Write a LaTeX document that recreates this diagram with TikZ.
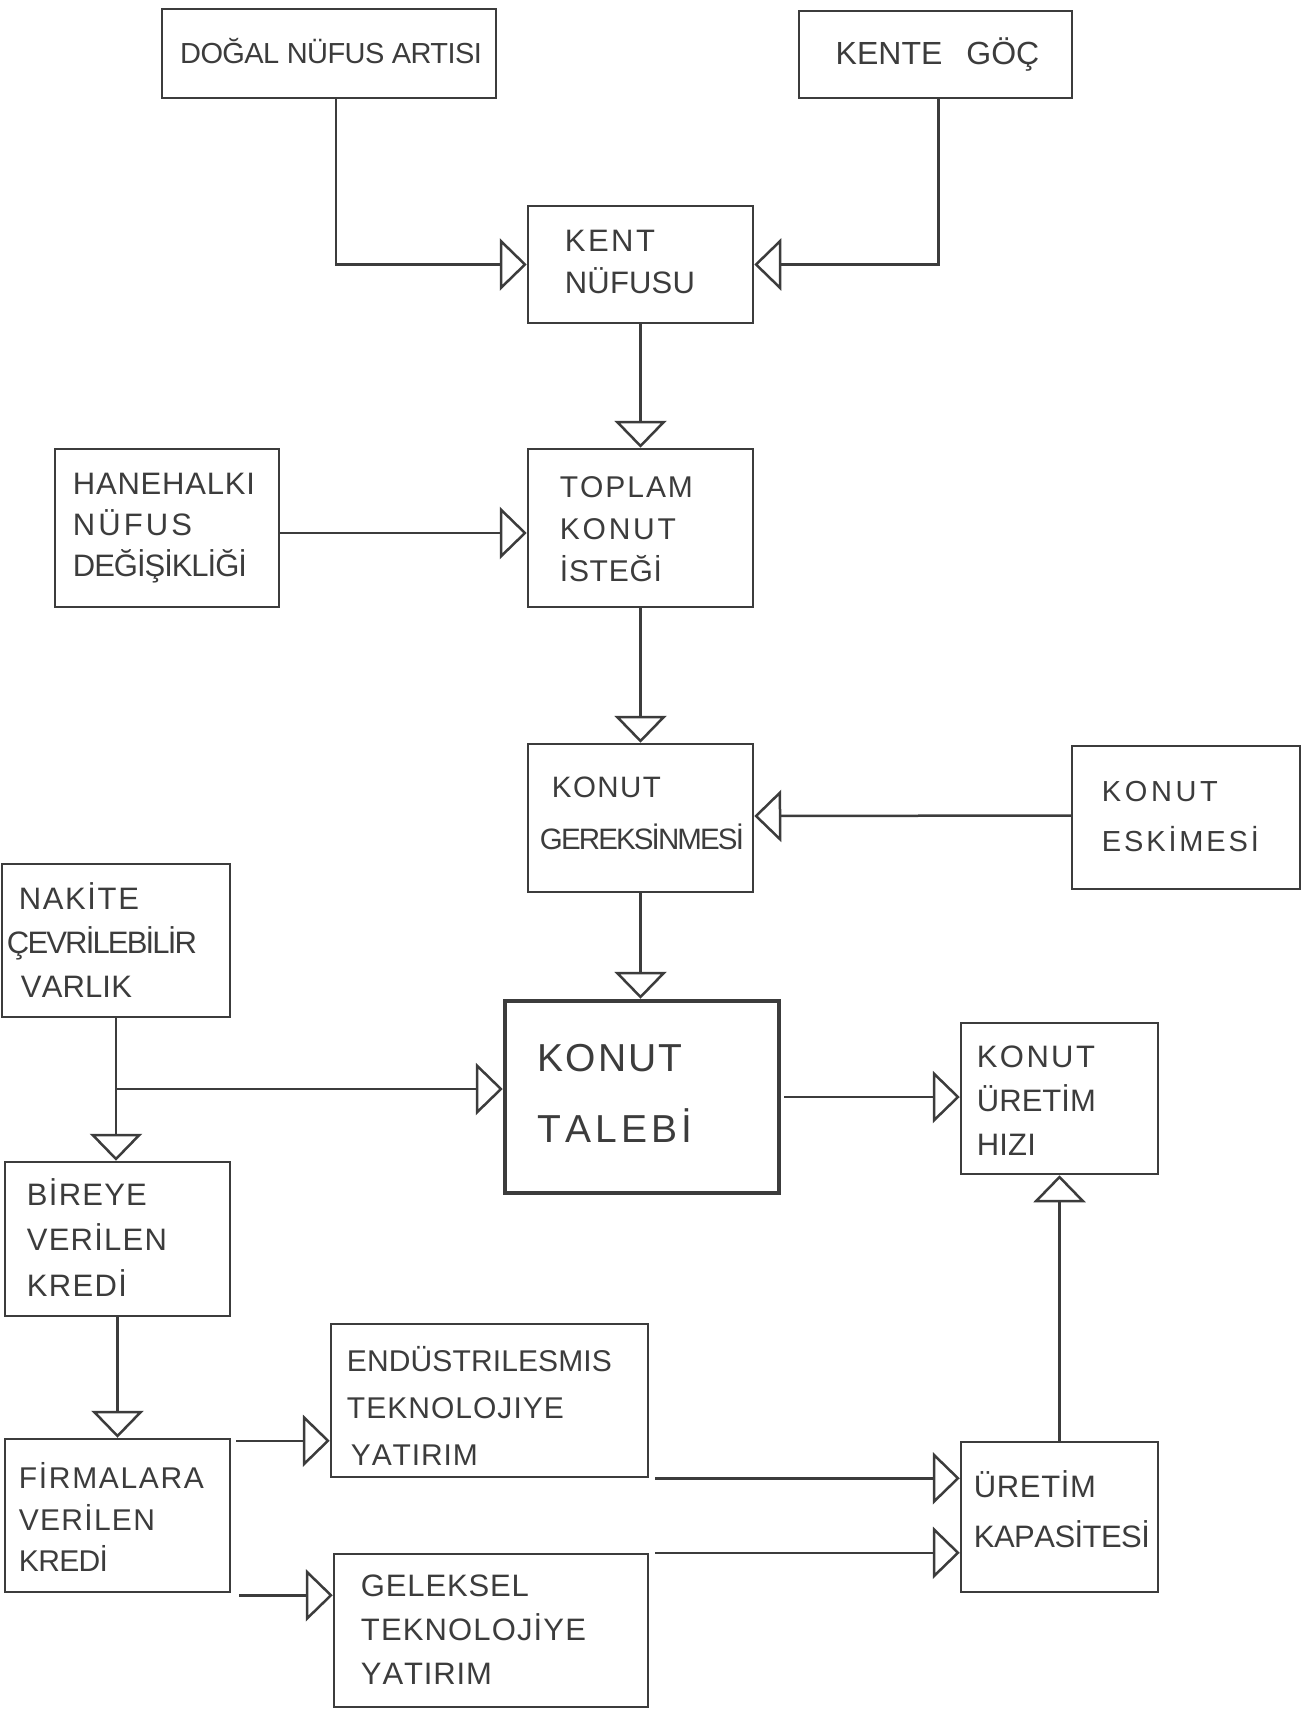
\documentclass[tikz,border=0pt]{standalone}
\usepackage{fontspec}
\setmainfont{Liberation Sans}
\usetikzlibrary{arrows.meta}
\definecolor{ink}{RGB}{60,60,60}
\newcommand\Lt[2]{{\addfontfeature{LetterSpace=#1}\vphantom{ÜÇ}#2}}
\newcommand\fsz[2]{\fontsize{#1}{#2}\selectfont}
\ExplSyntaxOn
\dim_new:N \l__rs_sum_dim
\dim_new:N \l__rs_gap_dim
\int_new:N \l__rs_n_int
\box_new:N \l__rs_box
\NewDocumentCommand \SP { m m }
  {
    \dim_zero:N \l__rs_sum_dim
    \tl_map_inline:nn {#2}
      {
        \hbox_set:Nn \l__rs_box {##1}
        \dim_add:Nn \l__rs_sum_dim { \box_wd:N \l__rs_box }
      }
    \int_set:Nn \l__rs_n_int { \tl_count:n {#2} - 1 }
    \dim_set:Nn \l__rs_gap_dim { ( #1 - \l__rs_sum_dim ) / \l__rs_n_int }
    \vphantom{ÜÇ}
    \hspace*{-\l__rs_gap_dim}
    \tl_map_inline:nn {#2} { \hspace*{\l__rs_gap_dim} ##1 }
  }
\ExplSyntaxOff
\tikzset{
  box/.style={draw=ink, line width=2.5pt, inner sep=0pt, rectangle},
  lbl/.style={text=ink, align=left, inner sep=0pt, anchor=west},
  arr/.style={draw=ink, line width=2.5pt, line join=miter, -{Triangle[open, length=27pt, width=52pt]}},
}
\begin{document}
\begin{tikzpicture}[x=1pt,y=-1pt]
\fill[white] (0,0) rectangle (1302,1715);
\useasboundingbox (0,0) rectangle (1302,1715);

% boxes
\node[box, minimum width=334pt, minimum height=89pt] (dogal) at (329,53.5) {};
\node[box, minimum width=273pt, minimum height=87pt] (goc) at (935.5,54.5) {};
\node[box, minimum width=225pt, minimum height=117pt] (kent) at (640.5,264.5) {};
\node[box, minimum width=225pt, minimum height=158pt] (toplam) at (640.5,528) {};
\node[box, minimum width=224pt, minimum height=158pt] (hane) at (167,528) {};
\node[box, minimum width=225pt, minimum height=148pt] (gerek) at (640.5,818) {};
\node[box, minimum width=228pt, minimum height=143pt] (eski) at (1186,817.5) {};
\node[box, minimum width=228pt, minimum height=153pt] (nakite) at (116,940.5) {};
\node[box, line width=4.5pt, minimum width=274pt, minimum height=192pt] (talebi) at (642,1097) {};
\node[box, minimum width=197pt, minimum height=151pt] (hizi) at (1059.5,1098.5) {};
\node[box, minimum width=225pt, minimum height=154pt] (bireye) at (117.5,1239) {};
\node[box, minimum width=225pt, minimum height=153pt] (firma) at (117.5,1515.5) {};
\node[box, minimum width=317pt, minimum height=153pt] (endus) at (489.5,1400.5) {};
\node[box, minimum width=314pt, minimum height=153pt] (gelek) at (491,1630.5) {};
\node[box, minimum width=197pt, minimum height=150pt] (uretim) at (1059.5,1517) {};

% texts
\node[lbl, anchor=center, font=\fsz{29}{40}] (dogalT) at ([xshift=2pt]dogal.center) {\Lt{-2}{DOĞAL NÜFUS ARTISI}};
\node[lbl, anchor=center, font=\fsz{32}{40}] (gocT) at ([xshift=2pt]goc.center) {\Lt{0}{KENTE\hspace{24pt}GÖÇ}};
\node[lbl, font=\fsz{31}{42.5}] (kentT) at ([xshift=38pt,yshift=1.5pt]kent.west) {\SP{90pt}{KENT}\\\SP{130pt}{NÜFUSU}};
\node[lbl, font=\fsz{30}{42.25}] (toplamT) at ([xshift=33pt,yshift=-2pt]toplam.west) {\SP{133pt}{TOPLAM}\\\SP{116pt}{KONUT}\\\SP{102pt}{İSTEĞİ}};
\node[lbl, font=\fsz{31}{41}] (haneT) at ([xshift=19pt,yshift=2pt]hane.west) {\SP{182pt}{HANEHALKI}\\\SP{119pt}{NÜFUS}\\\SP{174pt}{DEĞİŞİKLİĞİ}};
\node[lbl, font=\fsz{29.5}{52}] (gerekT) at ([xshift=13pt,yshift=4pt]gerek.west) {\hspace*{12pt}\SP{109pt}{KONUT}\\\SP{204pt}{GEREKSİNMESİ}};
\node[lbl, font=\fsz{29}{49.5}] (eskiT) at ([xshift=31pt]eski.west) {\SP{116pt}{KONUT}\\\SP{157pt}{ESKİMESİ}};
\node[lbl, font=\fsz{31}{43.75}] (nakiteT) at ([xshift=6pt,yshift=-3pt]nakite.west) {\hspace*{12pt}\SP{120pt}{NAKİTE}\\\SP{190pt}{ÇEVRİLEBİLİR}\\\hspace*{14pt}\SP{111pt}{VARLIK}};
\node[lbl, font=\fsz{39}{71}] (talebiT) at ([xshift=35pt,yshift=2.5pt]talebi.west) {\SP{144pt}{KONUT}\\\SP{154pt}{TALEBİ}};
\node[lbl, font=\fsz{31}{44}] (hiziT) at ([xshift=17pt,yshift=-3.5pt]hizi.west) {\SP{118pt}{KONUT}\\\SP{119pt}{ÜRETİM}\\\SP{59pt}{HIZI}};
\node[lbl, font=\fsz{31}{45.5}] (bireyeT) at ([xshift=23pt,yshift=-1.5pt]bireye.west) {\SP{120pt}{BİREYE}\\\SP{140pt}{VERİLEN}\\\SP{100pt}{KREDİ}};
\node[lbl, font=\fsz{30}{41.5}] (firmaT) at ([xshift=15pt,yshift=-5pt]firma.west) {\SP{185pt}{FİRMALARA}\\\SP{136pt}{VERİLEN}\\\SP{89pt}{KREDİ}};
\node[lbl, font=\fsz{30}{46.75}] (endusT) at ([xshift=17pt,yshift=-8.5pt]endus.west) {\SP{265pt}{ENDÜSTRILESMIS}\\\SP{217pt}{TEKNOLOJIYE}\\\hspace*{4pt}\SP{127pt}{YATIRIM}};
\node[lbl, font=\fsz{31}{44}] (gelekT) at ([xshift=28pt]gelek.west) {\SP{168pt}{GELEKSEL}\\\SP{225pt}{TEKNOLOJİYE}\\\SP{131pt}{YATIRIM}};
\node[lbl, font=\fsz{31}{50}] (uretimT) at ([xshift=14pt,yshift=5pt]uretim.west) {\SP{122pt}{ÜRETİM}\\\SP{176pt}{KAPASİTESİ}};

% connectors
\draw[arr] ([xshift=7pt]dogal.south) |- (kent.west);
\draw[arr] ([xshift=3pt]goc.south) |- (kent.east);
\draw[arr] (kent.south) -- (toplam.north);
\draw[arr] ([yshift=-5pt]hane.east) -- ([yshift=-5pt]toplam.west);
\draw[arr] (toplam.south) -- (gerek.north);
\draw[arr] ([yshift=2pt]eski.west) -- ([yshift=2pt]gerek.east);
\draw[arr] (gerek.south) -- (gerek.south |- talebi.north);
\coordinate (tw) at ([yshift=8pt]talebi.west);
\coordinate (br) at (nakite.south |- tw);
\draw[arr] (nakite.south) -- (nakite.south |- bireye.north);
\draw[arr] (br) -- (tw);
\draw[arr] (bireye.south) -- (bireye.south |- firma.north);
\coordinate (fe) at ([yshift=-3pt]firma.north east);
\draw[arr] ([xshift=5pt]fe) -- (fe -| endus.west);
\coordinate (fs) at ([yshift=-2pt]firma.south east);
\draw[arr] ([xshift=8pt]fs) -- (fs -| gelek.west);
\draw[arr] ([xshift=6pt]endus.south east) -- (endus.south east -| uretim.west);
\draw[arr] ([xshift=6pt]gelek.north east) -- (gelek.north east -| uretim.west);
\draw[arr] (uretim.north) -- (uretim.north |- hizi.south);
\draw[arr] ([xshift=3pt]talebi.east) -- (talebi.east -| hizi.west);
\end{tikzpicture}
\end{document}
